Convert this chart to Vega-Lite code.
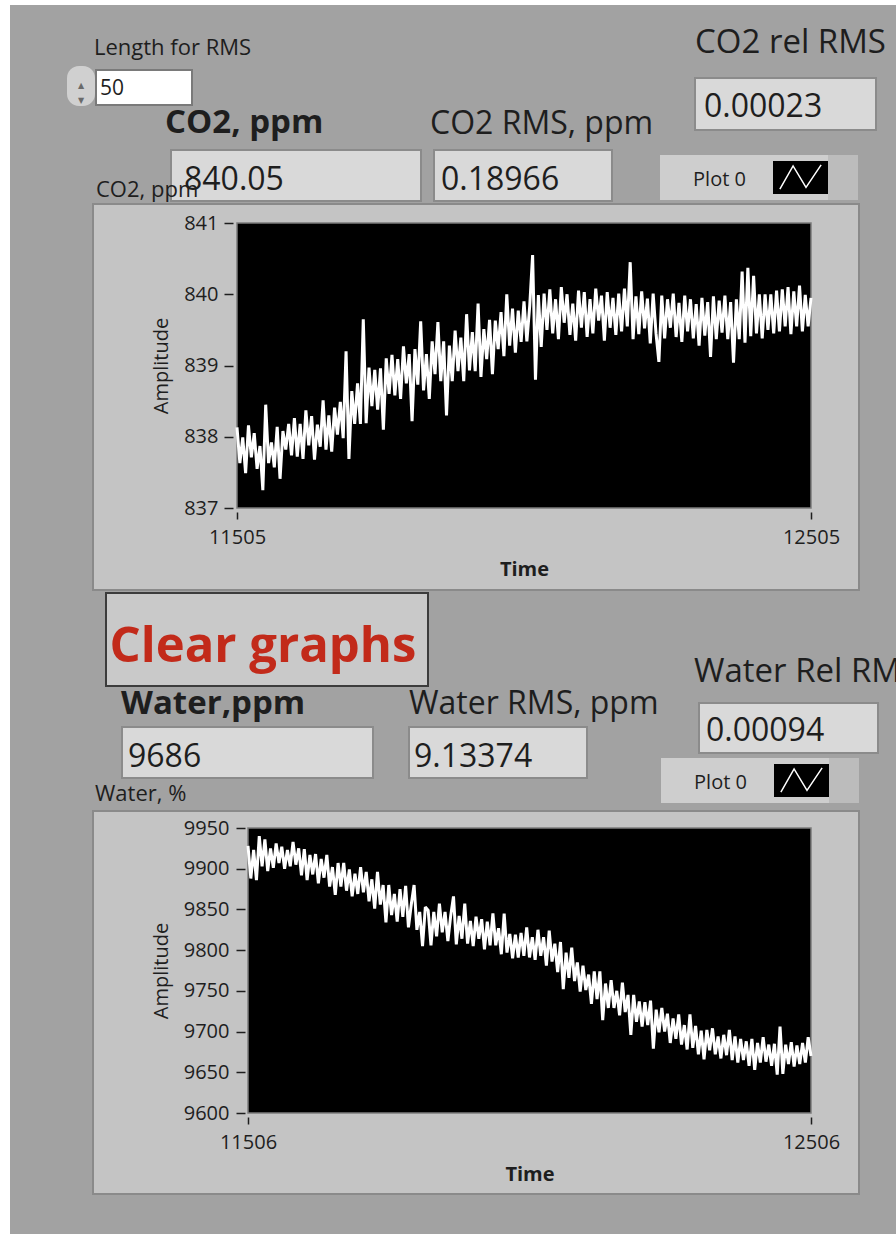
{
  "$schema": "https://vega.github.io/schema/vega-lite/v6.json",
  "background": "#a2a2a2",
  "padding": 0,
  "config": {
    "view": {"stroke": null},
    "concat": {"spacing": 0},
    "font": "Open Sans",
    "text": {"font": "Open Sans", "color": "#1e1e1e"}
  },
  "datasets": {
    "co2": [
      {"t":11505,"v":838.13},{"t":11510,"v":837.63},{"t":11515,"v":837.99},{"t":11520,"v":837.49},{"t":11525,"v":838.16},{"t":11530,"v":837.71},{"t":11535,"v":838.05},{"t":11540,"v":837.55},{"t":11545,"v":837.87},{"t":11550,"v":837.25},
      {"t":11555,"v":838.45},{"t":11560,"v":837.63},{"t":11565,"v":837.92},{"t":11570,"v":837.57},{"t":11575,"v":838.14},{"t":11580,"v":837.41},{"t":11585,"v":838.08},{"t":11590,"v":837.82},{"t":11595,"v":838.18},{"t":11600,"v":837.74},
      {"t":11605,"v":838.26},{"t":11610,"v":837.72},{"t":11615,"v":838.18},{"t":11620,"v":837.69},{"t":11625,"v":838.37},{"t":11630,"v":837.88},{"t":11635,"v":838.29},{"t":11640,"v":837.68},{"t":11645,"v":838.17},{"t":11650,"v":837.86},
      {"t":11655,"v":838.51},{"t":11660,"v":837.82},{"t":11665,"v":838.30},{"t":11670,"v":837.79},{"t":11675,"v":838.41},{"t":11680,"v":838.03},{"t":11685,"v":838.49},{"t":11690,"v":837.98},{"t":11695,"v":839.20},{"t":11700,"v":837.69},
      {"t":11705,"v":838.64},{"t":11710,"v":838.18},{"t":11715,"v":838.75},{"t":11720,"v":838.18},{"t":11725,"v":839.65},{"t":11730,"v":838.19},{"t":11735,"v":838.97},{"t":11740,"v":838.43},{"t":11745,"v":838.94},{"t":11750,"v":838.38},
      {"t":11755,"v":838.96},{"t":11760,"v":838.10},{"t":11765,"v":839.10},{"t":11770,"v":838.60},{"t":11775,"v":839.15},{"t":11780,"v":838.58},{"t":11785,"v":839.09},{"t":11790,"v":838.53},{"t":11795,"v":839.27},{"t":11800,"v":838.75},
      {"t":11805,"v":839.16},{"t":11810,"v":838.22},{"t":11815,"v":839.23},{"t":11820,"v":838.73},{"t":11825,"v":839.62},{"t":11830,"v":838.65},{"t":11835,"v":839.16},{"t":11840,"v":838.53},{"t":11845,"v":839.34},{"t":11850,"v":838.88},
      {"t":11855,"v":839.61},{"t":11860,"v":838.78},{"t":11865,"v":839.34},{"t":11870,"v":838.30},{"t":11875,"v":839.28},{"t":11880,"v":838.78},{"t":11885,"v":839.49},{"t":11890,"v":838.92},{"t":11895,"v":839.39},{"t":11900,"v":838.78},
      {"t":11905,"v":839.72},{"t":11910,"v":838.93},{"t":11915,"v":839.47},{"t":11920,"v":838.92},{"t":11925,"v":839.87},{"t":11930,"v":838.84},{"t":11935,"v":839.51},{"t":11940,"v":839.09},{"t":11945,"v":839.64},{"t":11950,"v":838.88},
      {"t":11955,"v":839.63},{"t":11960,"v":839.23},{"t":11965,"v":839.75},{"t":11970,"v":839.13},{"t":11975,"v":840.00},{"t":11980,"v":839.28},{"t":11985,"v":839.80},{"t":11990,"v":839.18},{"t":11995,"v":839.77},{"t":12000,"v":839.33},
      {"t":12005,"v":839.90},{"t":12010,"v":839.34},{"t":12015,"v":839.84},{"t":12020,"v":840.55},{"t":12025,"v":838.80},{"t":12030,"v":839.99},{"t":12035,"v":839.26},{"t":12040,"v":840.01},{"t":12045,"v":839.50},{"t":12050,"v":840.07},
      {"t":12055,"v":839.45},{"t":12060,"v":839.93},{"t":12065,"v":839.37},{"t":12070,"v":840.10},{"t":12075,"v":839.60},{"t":12080,"v":840.00},{"t":12085,"v":839.43},{"t":12090,"v":839.87},{"t":12095,"v":839.35},{"t":12100,"v":840.05},
      {"t":12105,"v":839.53},{"t":12110,"v":840.03},{"t":12115,"v":839.40},{"t":12120,"v":839.93},{"t":12125,"v":839.45},{"t":12130,"v":840.08},{"t":12135,"v":839.63},{"t":12140,"v":839.98},{"t":12145,"v":839.35},{"t":12150,"v":840.03},
      {"t":12155,"v":839.53},{"t":12160,"v":839.95},{"t":12165,"v":839.43},{"t":12170,"v":840.01},{"t":12175,"v":839.48},{"t":12180,"v":840.08},{"t":12185,"v":839.55},{"t":12190,"v":840.45},{"t":12195,"v":839.37},{"t":12200,"v":839.97},
      {"t":12205,"v":839.44},{"t":12210,"v":840.04},{"t":12215,"v":839.52},{"t":12220,"v":839.94},{"t":12225,"v":839.31},{"t":12230,"v":840.01},{"t":12235,"v":839.45},{"t":12240,"v":839.05},{"t":12245,"v":839.98},{"t":12250,"v":839.38},
      {"t":12255,"v":839.93},{"t":12260,"v":839.53},{"t":12265,"v":840.01},{"t":12270,"v":839.40},{"t":12275,"v":839.88},{"t":12280,"v":839.33},{"t":12285,"v":839.98},{"t":12290,"v":839.48},{"t":12295,"v":839.93},{"t":12300,"v":839.38},
      {"t":12305,"v":839.86},{"t":12310,"v":839.28},{"t":12315,"v":839.95},{"t":12320,"v":839.42},{"t":12325,"v":839.89},{"t":12330,"v":839.12},{"t":12335,"v":839.97},{"t":12340,"v":839.37},{"t":12345,"v":839.91},{"t":12350,"v":839.46},
      {"t":12355,"v":839.98},{"t":12360,"v":839.37},{"t":12365,"v":839.89},{"t":12370,"v":839.04},{"t":12375,"v":839.93},{"t":12380,"v":839.37},{"t":12385,"v":840.32},{"t":12390,"v":839.32},{"t":12395,"v":840.37},{"t":12400,"v":839.41},
      {"t":12405,"v":840.26},{"t":12410,"v":839.45},{"t":12415,"v":840.00},{"t":12420,"v":839.38},{"t":12425,"v":840.00},{"t":12430,"v":839.50},{"t":12435,"v":840.00},{"t":12440,"v":839.45},{"t":12445,"v":840.05},{"t":12450,"v":839.48},
      {"t":12455,"v":840.07},{"t":12460,"v":839.55},{"t":12465,"v":840.10},{"t":12470,"v":839.44},{"t":12475,"v":840.04},{"t":12480,"v":839.55},{"t":12485,"v":840.12},{"t":12490,"v":839.48},{"t":12495,"v":839.99},{"t":12500,"v":839.55},
      {"t":12505,"v":839.95}
    ],
    "water": [
      {"t":11506,"v":9928},{"t":11511,"v":9888},{"t":11516,"v":9923},{"t":11521,"v":9886},{"t":11526,"v":9940},{"t":11531,"v":9903},{"t":11536,"v":9936},{"t":11541,"v":9897},{"t":11546,"v":9925},{"t":11551,"v":9901},
      {"t":11556,"v":9931},{"t":11561,"v":9907},{"t":11566,"v":9927},{"t":11571,"v":9900},{"t":11576,"v":9923},{"t":11581,"v":9903},{"t":11586,"v":9933},{"t":11591,"v":9905},{"t":11596,"v":9925},{"t":11601,"v":9892},
      {"t":11606,"v":9924},{"t":11611,"v":9886},{"t":11616,"v":9917},{"t":11621,"v":9893},{"t":11626,"v":9918},{"t":11631,"v":9882},{"t":11636,"v":9912},{"t":11641,"v":9889},{"t":11646,"v":9917},{"t":11651,"v":9878},
      {"t":11656,"v":9902},{"t":11661,"v":9868},{"t":11666,"v":9907},{"t":11671,"v":9878},{"t":11676,"v":9907},{"t":11681,"v":9873},{"t":11686,"v":9899},{"t":11691,"v":9866},{"t":11696,"v":9894},{"t":11701,"v":9869},
      {"t":11706,"v":9902},{"t":11711,"v":9871},{"t":11716,"v":9896},{"t":11721,"v":9860},{"t":11726,"v":9887},{"t":11731,"v":9851},{"t":11736,"v":9896},{"t":11741,"v":9856},{"t":11746,"v":9880},{"t":11751,"v":9834},
      {"t":11756,"v":9880},{"t":11761,"v":9843},{"t":11766,"v":9869},{"t":11771,"v":9835},{"t":11776,"v":9875},{"t":11781,"v":9841},{"t":11786,"v":9879},{"t":11791,"v":9828},{"t":11796,"v":9856},{"t":11801,"v":9880},
      {"t":11806,"v":9825},{"t":11811,"v":9847},{"t":11816,"v":9805},{"t":11821,"v":9853},{"t":11826,"v":9849},{"t":11831,"v":9806},{"t":11836,"v":9847},{"t":11841,"v":9817},{"t":11846,"v":9857},{"t":11851,"v":9822},
      {"t":11856,"v":9847},{"t":11861,"v":9811},{"t":11866,"v":9842},{"t":11871,"v":9866},{"t":11876,"v":9807},{"t":11881,"v":9842},{"t":11886,"v":9814},{"t":11891,"v":9857},{"t":11896,"v":9808},{"t":11901,"v":9836},
      {"t":11906,"v":9805},{"t":11911,"v":9841},{"t":11916,"v":9814},{"t":11921,"v":9838},{"t":11926,"v":9801},{"t":11931,"v":9835},{"t":11936,"v":9806},{"t":11941,"v":9845},{"t":11946,"v":9806},{"t":11951,"v":9827},
      {"t":11956,"v":9795},{"t":11961,"v":9845},{"t":11966,"v":9797},{"t":11971,"v":9820},{"t":11976,"v":9790},{"t":11981,"v":9819},{"t":11986,"v":9791},{"t":11991,"v":9821},{"t":11996,"v":9793},{"t":12001,"v":9828},
      {"t":12006,"v":9791},{"t":12011,"v":9816},{"t":12016,"v":9788},{"t":12021,"v":9825},{"t":12026,"v":9793},{"t":12031,"v":9816},{"t":12036,"v":9781},{"t":12041,"v":9824},{"t":12046,"v":9786},{"t":12051,"v":9808},
      {"t":12056,"v":9773},{"t":12061,"v":9810},{"t":12066,"v":9752},{"t":12071,"v":9797},{"t":12076,"v":9766},{"t":12081,"v":9803},{"t":12086,"v":9762},{"t":12091,"v":9785},{"t":12096,"v":9749},{"t":12101,"v":9781},
      {"t":12106,"v":9751},{"t":12111,"v":9770},{"t":12116,"v":9734},{"t":12121,"v":9774},{"t":12126,"v":9740},{"t":12131,"v":9774},{"t":12136,"v":9714},{"t":12141,"v":9759},{"t":12146,"v":9729},{"t":12151,"v":9763},
      {"t":12156,"v":9729},{"t":12161,"v":9750},{"t":12166,"v":9720},{"t":12171,"v":9760},{"t":12176,"v":9724},{"t":12181,"v":9745},{"t":12186,"v":9696},{"t":12191,"v":9745},{"t":12196,"v":9712},{"t":12201,"v":9737},
      {"t":12206,"v":9706},{"t":12211,"v":9736},{"t":12216,"v":9708},{"t":12221,"v":9738},{"t":12226,"v":9679},{"t":12231,"v":9727},{"t":12236,"v":9699},{"t":12241,"v":9729},{"t":12246,"v":9700},{"t":12251,"v":9722},
      {"t":12256,"v":9686},{"t":12261,"v":9716},{"t":12266,"v":9691},{"t":12271,"v":9721},{"t":12276,"v":9684},{"t":12281,"v":9708},{"t":12286,"v":9678},{"t":12291,"v":9721},{"t":12296,"v":9680},{"t":12301,"v":9707},
      {"t":12306,"v":9672},{"t":12311,"v":9701},{"t":12316,"v":9666},{"t":12321,"v":9702},{"t":12326,"v":9677},{"t":12331,"v":9704},{"t":12336,"v":9672},{"t":12341,"v":9694},{"t":12346,"v":9667},{"t":12351,"v":9696},
      {"t":12356,"v":9671},{"t":12361,"v":9702},{"t":12366,"v":9665},{"t":12371,"v":9694},{"t":12376,"v":9662},{"t":12381,"v":9691},{"t":12386,"v":9665},{"t":12391,"v":9688},{"t":12396,"v":9658},{"t":12401,"v":9691},
      {"t":12406,"v":9653},{"t":12411,"v":9686},{"t":12416,"v":9662},{"t":12421,"v":9693},{"t":12426,"v":9663},{"t":12431,"v":9684},{"t":12436,"v":9658},{"t":12441,"v":9685},{"t":12446,"v":9647},{"t":12451,"v":9706},
      {"t":12456,"v":9648},{"t":12461,"v":9684},{"t":12466,"v":9660},{"t":12471,"v":9687},{"t":12476,"v":9657},{"t":12481,"v":9683},{"t":12486,"v":9660},{"t":12491,"v":9686},{"t":12496,"v":9662},{"t":12501,"v":9693},
      {"t":12506,"v":9670}
    ]
  },
  "spacing": 0,
  "hconcat": [
    {"width": 10, "height": 1234, "data": {"values": []}, "mark": "text", "view": {"fill": "#ffffff"}},
    {
      "spacing": 0,
      "vconcat": [
        {"width": 886, "height": 5, "data": {"values": []}, "mark": "text", "view": {"fill": "#ffffff"}},
        {
          "spacing": 0,
          "hconcat": [
            {
              "spacing": 0,
              "vconcat": [
                {"width": 1, "height": 30, "data": {"values": []}, "mark": "text"},
                {
                  "spacing": 0,
                  "hconcat": [
                    {"width": 84, "height": 1, "data": {"values": []}, "mark": "text"},
                    {
                      "width": 210, "height": 26,
                      "data": {"values": [{"label": "Length for RMS"}]},
                      "mark": {"type": "text", "align": "left", "baseline": "middle", "fontSize": 22},
                      "encoding": {"text": {"field": "label"}, "x": {"datum": 0, "type": "quantitative", "scale": {"domain": [0, 1]}, "axis": null}}
                    }
                  ]
                },
                {"width": 1, "height": 5, "data": {"values": []}, "mark": "text"},
                {
                  "spacing": 0,
                  "hconcat": [
                    {"width": 57, "height": 1, "data": {"values": []}, "mark": "text"},
                    {
                      "width": 28, "height": 40,
                      "data": {"values": [{"control": "Length for RMS"}]},
                      "view": {"fill": "#d0d0d0", "cornerRadius": 12},
                      "mark": {"type": "text", "text": ["▲", "▼"], "font": "DejaVu Sans", "fontSize": 8, "lineHeight": 15, "color": "#6a6a6a", "baseline": "middle"}
                    },
                    {
                      "spacing": 0,
                      "vconcat": [
                        {"width": 1, "height": 3, "data": {"values": []}, "mark": "text"},
                        {
                          "width": 96, "height": 35,
                          "data": {"values": [{"control": "Length for RMS", "value": 50}]},
                          "view": {"fill": "#ffffff", "stroke": "#7a7a7a", "strokeWidth": 2},
                          "mark": {"type": "text", "align": "left", "baseline": "middle", "dx": 4, "dy": 1, "fontSize": 21},
                          "encoding": {
                            "text": {"field": "value", "type": "quantitative", "format": "d"},
                            "x": {"datum": 0, "type": "quantitative", "scale": {"domain": [0, 1]}, "axis": null}
                          }
                        }
                      ]
                    }
                  ]
                },
                {
                  "spacing": 0,
                  "hconcat": [
                    {"width": 155, "height": 1, "data": {"values": []}, "mark": "text"},
                    {
                      "width": 265, "height": 34,
                      "data": {"values": [{"label": "CO2, ppm"}]},
                      "mark": {"type": "text", "align": "left", "baseline": "middle", "fontSize": 33, "fontWeight": "bold"},
                      "encoding": {"text": {"field": "label"}, "x": {"datum": 0, "type": "quantitative", "scale": {"domain": [0, 1]}, "axis": null}}
                    },
                    {
                      "width": 230, "height": 34,
                      "data": {"values": [{"label": "CO2 RMS, ppm"}]},
                      "mark": {"type": "text", "align": "left", "baseline": "middle", "fontSize": 32, "dy": 1},
                      "encoding": {"text": {"field": "label"}, "x": {"datum": 0, "type": "quantitative", "scale": {"domain": [0, 1]}, "axis": null}}
                    }
                  ]
                },
                {"width": 1, "height": 9, "data": {"values": []}, "mark": "text"},
                {
                  "spacing": 0,
                  "hconcat": [
                    {"width": 85, "height": 1, "data": {"values": []}, "mark": "text"},
                    {
                      "width": 250, "height": 51,
                      "view": {"fill": "#d9d9d9", "stroke": "#8b8b8b", "strokeWidth": 2},
                      "layer": [
                        {
                          "data": {"values": [{"indicator": "CO2, ppm", "value": 840.05}]},
                          "mark": {"type": "text", "align": "left", "baseline": "middle", "dx": 13, "dy": 4, "fontSize": 32},
                          "encoding": {
                            "text": {"field": "value", "type": "quantitative", "format": ".2f"},
                            "x": {"datum": 0, "type": "quantitative", "scale": {"domain": [0, 1]}, "axis": null}
                          }
                        },
                        {
                          "data": {"values": [{"graph": "CO2, ppm"}]},
                          "mark": {"type": "text", "align": "left", "baseline": "alphabetic", "dx": -75, "dy": 21, "fontSize": 22},
                          "encoding": {
                            "text": {"field": "graph"},
                            "x": {"datum": 0, "type": "quantitative", "scale": {"domain": [0, 1]}, "axis": null}
                          }
                        }
                      ]
                    },
                    {"width": 11, "height": 1, "data": {"values": []}, "mark": "text"},
                    {
                      "width": 178, "height": 51,
                      "data": {"values": [{"indicator": "CO2 RMS, ppm", "value": 0.18966}]},
                      "view": {"fill": "#d9d9d9", "stroke": "#8b8b8b", "strokeWidth": 2},
                      "mark": {"type": "text", "align": "left", "baseline": "middle", "dx": 7, "dy": 4, "fontSize": 32},
                      "encoding": {
                        "text": {"field": "value", "type": "quantitative", "format": ".5f"},
                        "x": {"datum": 0, "type": "quantitative", "scale": {"domain": [0, 1]}, "axis": null}
                      }
                    }
                  ]
                }
              ]
            },
            {
              "spacing": 0,
              "vconcat": [
                {"width": 1, "height": 20, "data": {"values": []}, "mark": "text"},
                {
                  "spacing": 0,
                  "hconcat": [
                    {"width": 35, "height": 1, "data": {"values": []}, "mark": "text"},
                    {
                      "width": 201, "height": 36,
                      "data": {"values": [{"label": "CO2 rel RMS"}]},
                      "mark": {"type": "text", "align": "left", "baseline": "middle", "fontSize": 33},
                      "encoding": {"text": {"field": "label"}, "x": {"datum": 0, "type": "quantitative", "scale": {"domain": [0, 1]}, "axis": null}}
                    }
                  ]
                },
                {"width": 1, "height": 16, "data": {"values": []}, "mark": "text"},
                {
                  "spacing": 0,
                  "hconcat": [
                    {"width": 34, "height": 1, "data": {"values": []}, "mark": "text"},
                    {
                      "width": 181, "height": 52,
                      "data": {"values": [{"indicator": "CO2 rel RMS", "value": 0.00023}]},
                      "view": {"fill": "#d9d9d9", "stroke": "#8b8b8b", "strokeWidth": 2},
                      "mark": {"type": "text", "align": "left", "baseline": "middle", "dx": 9, "dy": 3, "fontSize": 32},
                      "encoding": {
                        "text": {"field": "value", "type": "quantitative", "format": ".5f"},
                        "x": {"datum": 0, "type": "quantitative", "scale": {"domain": [0, 1]}, "axis": null}
                      }
                    }
                  ]
                },
                {"width": 1, "height": 24, "data": {"values": []}, "mark": "text"},
                {
                  "spacing": 0,
                  "hconcat": [
                    {
                      "width": 113, "height": 45,
                      "data": {"values": [{"series": "Plot 0"}]},
                      "view": {"fill": "#cecece"},
                      "mark": {"type": "text", "fontSize": 20, "baseline": "middle", "dx": 3, "dy": 2},
                      "encoding": {"text": {"field": "series"}}
                    },
                    {
                      "width": 55, "height": 45,
                      "data": {"values": [{"series": "Plot 0"}]},
                      "view": {"fill": "#cecece"},
                      "layer": [
                        {"mark": {"type": "point", "shape": "M-1,-0.6H1V0.6H-1Z", "filled": true, "color": "#000000", "opacity": 1, "size": 3025}},
                        {"mark": {"type": "point", "shape": "M-0.75,0.42L-0.27,-0.42L0.2,0.36L0.75,-0.46", "filled": false, "color": "#ffffff", "opacity": 1, "strokeWidth": 1.5, "size": 3025}}
                      ]
                    },
                    {"width": 30, "height": 45, "data": {"values": []}, "mark": "text", "view": {"fill": "#bcbcbc"}}
                  ]
                },
                {"width": 1, "height": 3, "data": {"values": []}, "mark": "text"}
              ]
            }
          ]
        },
        {
          "spacing": 0,
          "hconcat": [
            {"width": 82, "height": 1, "data": {"values": []}, "mark": "text"},
            {
              "width": 766, "height": 386,
              "view": {"fill": "#c4c4c4", "stroke": "#8a8a8a", "strokeWidth": 2},
              "data": {"name": "co2"},
              "encoding": {
                "x": {
                  "field": "t", "type": "quantitative",
                  "scale": {"domain": [11505, 12505], "range": [144, 718], "nice": false, "zero": false},
                  "axis": {"orient": "bottom", "offset": -78, "values": [11505, 12505], "format": "d", "domain": false, "grid": false, "tickSize": 7, "tickWidth": 1.5, "tickColor": "#1e1e1e", "labelFont": "Open Sans", "labelFontSize": 20, "labelColor": "#1e1e1e", "labelPadding": 8, "labelFlush": false, "labelOverlap": false, "title": "Time", "titleFont": "Open Sans", "titleFontSize": 20, "titleFontWeight": "bold", "titleColor": "#1e1e1e", "titlePadding": 12}
                },
                "y": {
                  "field": "v", "type": "quantitative",
                  "scale": {"domain": [837, 841], "range": [304, 19], "nice": false, "zero": false},
                  "axis": {"orient": "left", "offset": -140, "values": [837, 838, 839, 840, 841], "format": "d", "domain": false, "grid": false, "tickSize": 9, "tickWidth": 1.5, "tickColor": "#1e1e1e", "labelFont": "Open Sans", "labelFontSize": 20, "labelColor": "#1e1e1e", "labelPadding": 6, "labelFlush": false, "labelOverlap": false, "title": "Amplitude", "titleFont": "Open Sans", "titleFontSize": 20, "titleFontWeight": "normal", "titleColor": "#1e1e1e", "titlePadding": 12}
                }
              },
              "layer": [
                {
                  "data": {"values": [{"t": 11505, "t2": 12505, "v": 837, "v2": 841}]},
                  "mark": {"type": "rect", "fill": "#000000", "stroke": "#7c7c7c", "strokeWidth": 1.5},
                  "encoding": {"x2": {"field": "t2"}, "y2": {"field": "v2"}}
                },
                {
                  "mark": {"type": "line", "color": "#ffffff", "strokeWidth": 3, "strokeJoin": "miter", "strokeMiterLimit": 2},
                  "encoding": {}
                }
              ]
            }
          ]
        },
        {
          "spacing": 0,
          "hconcat": [
            {
              "spacing": 0,
              "vconcat": [
                {
                  "spacing": 0,
                  "hconcat": [
                    {"width": 95, "height": 1, "data": {"values": []}, "mark": "text"},
                    {
                      "spacing": 0,
                      "vconcat": [
                        {"width": 1, "height": 1, "data": {"values": []}, "mark": "text"},
                        {
                          "width": 322, "height": 93,
                          "data": {"values": [{"action": "Clear graphs"}]},
                          "view": {"fill": "#c9c9c9", "stroke": "#3c3c3c", "strokeWidth": 2},
                          "mark": {"type": "text", "fontSize": 49, "fontWeight": "bold", "color": "#c22a1a", "baseline": "middle", "dx": -4, "dy": 7},
                          "encoding": {"text": {"field": "action"}}
                        }
                      ]
                    }
                  ]
                },
                {
                  "spacing": 0,
                  "hconcat": [
                    {"width": 85, "height": 1, "data": {"values": []}, "mark": "text"},
                    {
                      "spacing": 0,
                      "vconcat": [
                        {
                          "spacing": 0,
                          "hconcat": [
                            {"width": 26, "height": 1, "data": {"values": []}, "mark": "text"},
                            {
                              "width": 250, "height": 34,
                              "data": {"values": [{"label": "Water,ppm"}]},
                              "mark": {"type": "text", "align": "left", "baseline": "middle", "fontSize": 33, "fontWeight": "bold"},
                              "encoding": {"text": {"field": "label"}, "x": {"datum": 0, "type": "quantitative", "scale": {"domain": [0, 1]}, "axis": null}}
                            }
                          ]
                        },
                        {"width": 1, "height": 5, "data": {"values": []}, "mark": "text"},
                        {
                          "spacing": 0,
                          "hconcat": [
                            {"width": 26, "height": 1, "data": {"values": []}, "mark": "text"},
                            {
                              "width": 251, "height": 51,
                              "data": {"values": [{"indicator": "Water,ppm", "value": 9686}]},
                              "view": {"fill": "#d9d9d9", "stroke": "#8b8b8b", "strokeWidth": 2},
                              "mark": {"type": "text", "align": "left", "baseline": "middle", "dx": 6, "dy": 4, "fontSize": 32},
                              "encoding": {
                                "text": {"field": "value", "type": "quantitative", "format": "d"},
                                "x": {"datum": 0, "type": "quantitative", "scale": {"domain": [0, 1]}, "axis": null}
                              }
                            }
                          ]
                        },
                        {"width": 1, "height": 2, "data": {"values": []}, "mark": "text"},
                        {
                          "width": 120, "height": 26,
                          "data": {"values": [{"label": "Water, %"}]},
                          "mark": {"type": "text", "align": "left", "baseline": "middle", "fontSize": 22},
                          "encoding": {"text": {"field": "label"}, "x": {"datum": 0, "type": "quantitative", "scale": {"domain": [0, 1]}, "axis": null}}
                        }
                      ]
                    },
                    {"width": 34, "height": 1, "data": {"values": []}, "mark": "text"},
                    {
                      "spacing": 0,
                      "vconcat": [
                        {
                          "width": 252, "height": 34,
                          "data": {"values": [{"label": "Water RMS, ppm"}]},
                          "mark": {"type": "text", "align": "left", "baseline": "middle", "fontSize": 32},
                          "encoding": {"text": {"field": "label"}, "x": {"datum": 0, "type": "quantitative", "scale": {"domain": [0, 1]}, "axis": null}}
                        },
                        {"width": 1, "height": 5, "data": {"values": []}, "mark": "text"},
                        {
                          "width": 178, "height": 51,
                          "data": {"values": [{"indicator": "Water RMS, ppm", "value": 9.13374}]},
                          "view": {"fill": "#d9d9d9", "stroke": "#8b8b8b", "strokeWidth": 2},
                          "mark": {"type": "text", "align": "left", "baseline": "middle", "dx": 5, "dy": 4, "fontSize": 32},
                          "encoding": {
                            "text": {"field": "value", "type": "quantitative", "format": ".5f"},
                            "x": {"datum": 0, "type": "quantitative", "scale": {"domain": [0, 1]}, "axis": null}
                          }
                        }
                      ]
                    }
                  ]
                }
              ]
            },
            {
              "spacing": 0,
              "vconcat": [
                {"width": 1, "height": 64, "data": {"values": []}, "mark": "text"},
                {
                  "spacing": 0,
                  "hconcat": [
                    {"width": 33, "height": 1, "data": {"values": []}, "mark": "text"},
                    {
                      "width": 203, "height": 34,
                      "data": {"values": [{"label": "Water Rel RMS"}]},
                      "mark": {"type": "text", "align": "left", "baseline": "middle", "fontSize": 33, "clip": true},
                      "encoding": {"text": {"field": "label"}, "x": {"datum": 0, "type": "quantitative", "scale": {"domain": [0, 1]}, "axis": null}}
                    }
                  ]
                },
                {"width": 1, "height": 13, "data": {"values": []}, "mark": "text"},
                {
                  "spacing": 0,
                  "hconcat": [
                    {"width": 37, "height": 1, "data": {"values": []}, "mark": "text"},
                    {
                      "width": 179, "height": 50,
                      "data": {"values": [{"indicator": "Water Rel RMS", "value": 0.00094}]},
                      "view": {"fill": "#d9d9d9", "stroke": "#8b8b8b", "strokeWidth": 2},
                      "mark": {"type": "text", "align": "left", "baseline": "middle", "dx": 7, "dy": 3, "fontSize": 32},
                      "encoding": {
                        "text": {"field": "value", "type": "quantitative", "format": ".5f"},
                        "x": {"datum": 0, "type": "quantitative", "scale": {"domain": [0, 1]}, "axis": null}
                      }
                    }
                  ]
                },
                {"width": 1, "height": 4, "data": {"values": []}, "mark": "text"},
                {
                  "spacing": 0,
                  "hconcat": [
                    {
                      "width": 113, "height": 45,
                      "data": {"values": [{"series": "Plot 0"}]},
                      "view": {"fill": "#cecece"},
                      "mark": {"type": "text", "fontSize": 20, "baseline": "middle", "dx": 3, "dy": 2},
                      "encoding": {"text": {"field": "series"}}
                    },
                    {
                      "width": 55, "height": 45,
                      "data": {"values": [{"series": "Plot 0"}]},
                      "view": {"fill": "#cecece"},
                      "layer": [
                        {"mark": {"type": "point", "shape": "M-1,-0.6H1V0.6H-1Z", "filled": true, "color": "#000000", "opacity": 1, "size": 3025}},
                        {"mark": {"type": "point", "shape": "M-0.75,0.42L-0.27,-0.42L0.2,0.36L0.75,-0.46", "filled": false, "color": "#ffffff", "opacity": 1, "strokeWidth": 1.5, "size": 3025}}
                      ]
                    },
                    {"width": 30, "height": 45, "data": {"values": []}, "mark": "text", "view": {"fill": "#bcbcbc"}}
                  ]
                },
                {"width": 1, "height": 7, "data": {"values": []}, "mark": "text"}
              ]
            }
          ]
        },
        {
          "spacing": 0,
          "hconcat": [
            {"width": 82, "height": 1, "data": {"values": []}, "mark": "text"},
            {
              "width": 766, "height": 383,
              "view": {"fill": "#c4c4c4", "stroke": "#8a8a8a", "strokeWidth": 2},
              "data": {"name": "water"},
              "encoding": {
                "x": {
                  "field": "t", "type": "quantitative",
                  "scale": {"domain": [11506, 12506], "range": [155, 718], "nice": false, "zero": false},
                  "axis": {"orient": "bottom", "offset": -77, "values": [11506, 12506], "format": "d", "domain": false, "grid": false, "tickSize": 7, "tickWidth": 1.5, "tickColor": "#1e1e1e", "labelFont": "Open Sans", "labelFontSize": 20, "labelColor": "#1e1e1e", "labelPadding": 8, "labelFlush": false, "labelOverlap": false, "title": "Time", "titleFont": "Open Sans", "titleFontSize": 20, "titleFontWeight": "bold", "titleColor": "#1e1e1e", "titlePadding": 12}
                },
                "y": {
                  "field": "v", "type": "quantitative",
                  "scale": {"domain": [9600, 9950], "range": [302, 17], "nice": false, "zero": false},
                  "axis": {"orient": "left", "offset": -152, "values": [9600, 9650, 9700, 9750, 9800, 9850, 9900, 9950], "format": "d", "domain": false, "grid": false, "tickSize": 9, "tickWidth": 1.5, "tickColor": "#1e1e1e", "labelFont": "Open Sans", "labelFontSize": 20, "labelColor": "#1e1e1e", "labelPadding": 7, "labelFlush": false, "labelOverlap": false, "title": "Amplitude", "titleFont": "Open Sans", "titleFontSize": 20, "titleFontWeight": "normal", "titleColor": "#1e1e1e", "titlePadding": 12}
                }
              },
              "layer": [
                {
                  "data": {"values": [{"t": 11506, "t2": 12506, "v": 9600, "v2": 9950}]},
                  "mark": {"type": "rect", "fill": "#000000", "stroke": "#7c7c7c", "strokeWidth": 1.5},
                  "encoding": {"x2": {"field": "t2"}, "y2": {"field": "v2"}}
                },
                {
                  "mark": {"type": "line", "color": "#ffffff", "strokeWidth": 3, "strokeJoin": "miter", "strokeMiterLimit": 2},
                  "encoding": {}
                }
              ]
            }
          ]
        },
        {"width": 1, "height": 39, "data": {"values": []}, "mark": "text"}
      ]
    }
  ]
}
